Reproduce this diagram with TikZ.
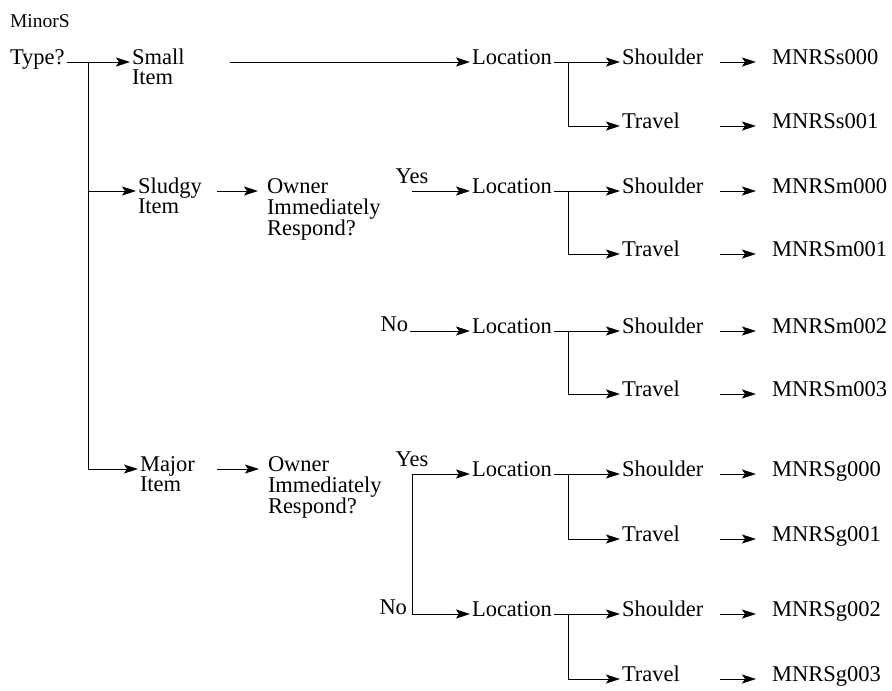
\documentclass[tikz,border=0pt]{standalone}
\usepackage{fontspec}
\setmainfont{Liberation Serif}
\usetikzlibrary{arrows.meta,positioning}

\newcommand{\tstack}[1]{\begin{tabular}[t]{@{}l@{}}#1\end{tabular}}

\begin{document}
\begin{tikzpicture}[x=1pt, y=-1pt, line width=0.9pt,
    >={Stealth[length=14pt,width=9pt,inset=3pt]},
    lbl/.style={inner sep=0pt, outer sep=2pt, anchor=mid west,
        font=\fontsize{22.5}{18.5}\selectfont},
    leaf/.style={lbl, text width=96pt},
    code/.style={lbl, inner xsep=14pt},
    ans/.style={inner sep=0pt, outer sep=2pt, font=\fontsize{22.5}{18.5}\selectfont}]
    \useasboundingbox (0,0) rectangle (892,691);

    \node[lbl, anchor=base west, font=\fontsize{19.5}{20}\selectfont] (minors) at (8,27) {MinorS};
    \node[lbl] (type) at (8,62) {Type?};

    \node[lbl] (small) at (130,62) {\tstack{Small\\Item}};
    \node[lbl] (sludgy) at (136,191) {\tstack{Sludgy\\Item}};
    \node[lbl] (major) at (138,469) {\tstack{Major\\Item}};
    \node[lbl] (owner1) at (265,191) {\tstack{Owner\\Immediately\\Respond?}};
    \node[lbl] (owner2) at (266,469) {\tstack{Owner\\Immediately\\Respond?}};

    \coordinate (t1) at (88,62);
    \coordinate (t2) at (88,191);
    \coordinate (t3) at (88,469);
    \draw (t1) -- (t3);
    \draw[->] (type.mid east) -- (small.mid west);
    \draw[->] (t2) -- (sludgy.mid west);
    \draw[->] (t3) -- (major.mid west);
    \draw[->, shorten <=13pt, shorten >=7pt] (sludgy.mid east) -- (owner1.mid west);
    \draw[->, shorten <=20pt, shorten >=7pt] (major.mid east) -- (owner2.mid west);

    \foreach \n/\ya/\yb/\ca/\cb in {1/62/126/s000/s001, 2/191/254/m000/m001,
        3/331/394/m002/m003, 4/474/539/g000/g001, 5/614/679/g002/g003} {
        \node[lbl] (loc\n) at (470,\ya) {Location};
        \node[leaf] (sh\n) at (620,\ya) {Shoulder};
        \node[leaf] (tr\n) at (620,\yb) {Travel};
        \node[code] (ca\n) at (756,\ya) {MNRS\ca};
        \node[code] (cb\n) at (756,\yb) {MNRS\cb};
        \coordinate (br\n) at (568,\ya);
        \draw[->] (loc\n.mid east) -- (sh\n.mid west);
        \draw[->] (br\n) |- (tr\n.mid west);
        \draw[->] (sh\n.mid east) -- (ca\n.mid west);
        \draw[->] (tr\n.mid east) -- (cb\n.mid west);
    }

    \draw[->, shorten <=43pt] (small.mid east) -- (loc1.mid west);

    \coordinate (yes1) at (412,191);
    \draw[->] (yes1) node[ans, above=5pt] (yeslbl1) {Yes} -- (loc2.mid west);
    \node[ans, anchor=base east] (no1) at (410,331) {No};
    \draw[->] (no1.base east) -- (loc3.mid west);

    \coordinate (yes2) at (412,474);
    \coordinate (nojoin) at (412,614);
    \draw (yes2) -- (nojoin);
    \draw[->] (yes2) node[ans, above=5pt] (yeslbl2) {Yes} -- (loc4.mid west);
    \node[ans, anchor=base east] (no2) at (409,614) {No};
    \draw[->] (nojoin) -- (loc5.mid west);
\end{tikzpicture}
\end{document}
